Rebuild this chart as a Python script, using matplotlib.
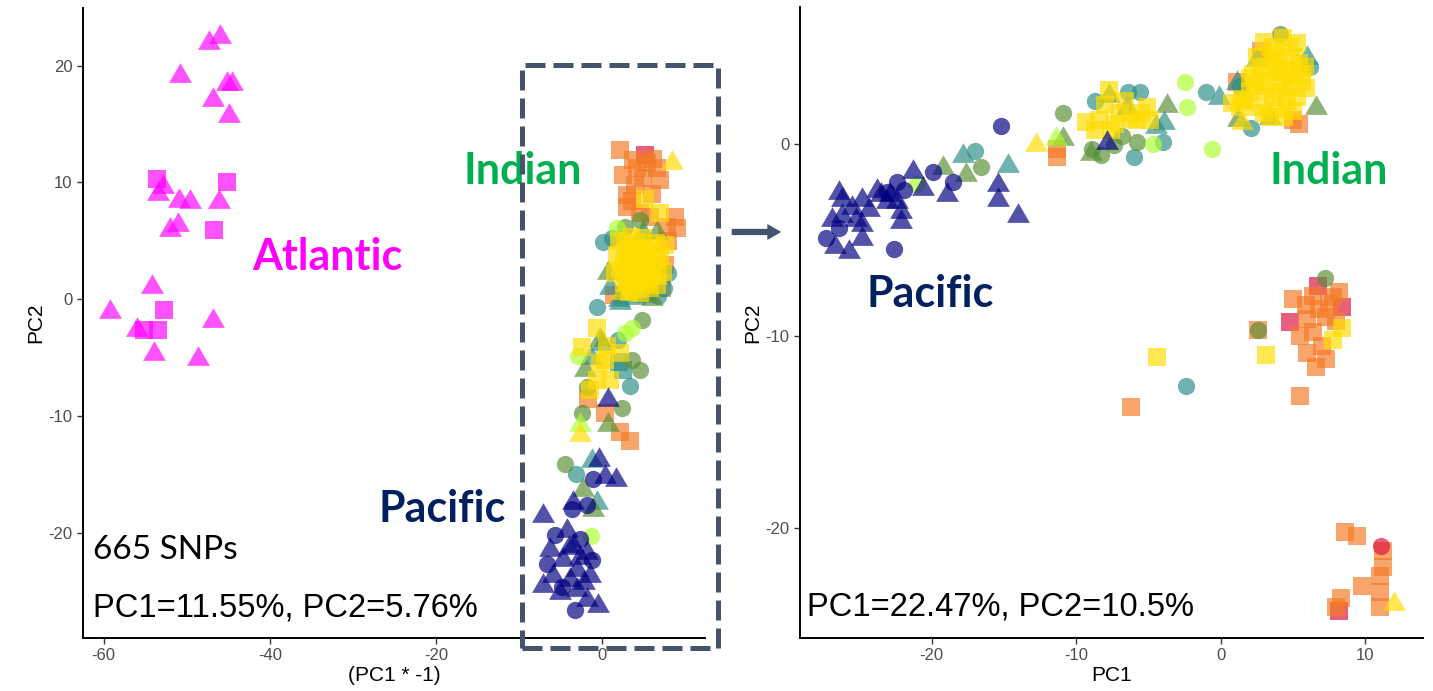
import matplotlib
matplotlib.use("Agg")
import matplotlib.pyplot as plt
from matplotlib.patches import Rectangle, FancyArrowPatch

plt.rcParams["font.family"] = ["Liberation Sans", "DejaVu Sans"]
plt.rcParams["axes.unicode_minus"] = False

# colours per group
COLORS = {
    "magenta": "#FF00FF",
    "navy": "#000080",
    "teal": "#2C8E88",
    "olive": "#5A9035",
    "lime": "#ADFF2F",
    "gold": "#FFDC00",
    "orange": "#F47A25",
    "crimson": "#DE1341",
}

# ---------------- left panel: 665 SNPs (PC1 flipped) ----------------
left_magenta_tri = [(-46.0, 22.7), (-47.3, 22.2), (-50.8, 19.4), (-45.2, 18.7), (-44.6, 18.7),
                    (-46.9, 17.3), (-44.9, 15.9), (-52.9, 9.9), (-53.5, 9.3), (-50.9, 8.7),
                    (-49.6, 8.6), (-46.1, 8.6), (-52.0, 6.2), (-51.1, 6.6), (-54.2, 1.3),
                    (-59.2, -0.8), (-46.8, -1.6), (-56.0, -2.4), (-53.9, -4.4), (-48.7, -4.9)]
left_magenta_sq = [(-53.6, 10.3), (-45.2, 10.0), (-46.7, 5.9), (-52.8, -0.9), (-53.5, -2.6), (-55.1, -2.6)]

left_crimson_sq = [(5.2, 12.3)]
left_orange_sq = [(2.2, 12.8), (3.7, 11.9), (5.4, 11.7), (6.6, 11.2), (4.9, 10.4), (7.0, 10.2),
                  (3.0, 8.9), (3.0, 7.9), (4.6, 7.4), (8.8, 7.0), (9.0, 6.1), (6.0, 9.0), (4.0, 9.8),
                  (7.8, 6.2), (2.5, 10.6), (4.2, 11.2), (6.2, 12.0), (3.6, 8.4), (5.8, 7.0),
                  (7.6, 2.9), (7.2, 1.0), (1.4, 0.4), (8.0, 5.0),
                  (-1.7, -8.5), (0.4, -9.7), (2.2, -11.4), (3.4, -12.1)]
left_teal_circ = [(-0.6, -0.7), (1.9, -3.5), (3.4, -7.4), (-3.1, -15.0), (0.1, 4.9), (8.0, 2.2),
                  (6.7, 0.3), (1.2, 5.2), (7.5, 1.0)]
left_teal_tri = [(-1.2, -13.6), (-0.6, -17.2), (0.0, -3.6), (-1.3, -4.8), (4.9, 5.9), (2.2, -0.1),
                 (5.4, 0.5), (1.0, 1.2), (2.0, 0.2), (4.0, 0.4)]
left_teal_sq = [(2.5, -6.1), (2.0, -5.4)]
left_olive_circ = [(4.8, -1.8), (3.6, -5.2), (4.6, -6.1), (-1.8, -7.5), (-2.4, -9.7), (2.4, -9.3),
                   (-4.5, -14.1), (4.6, 6.8), (2.8, 6.2)]
left_olive_tri = [(-2.3, -16.1), (-1.1, -17.8), (-0.2, -3.2), (-2.0, -5.8), (0.7, -10.5), (6.6, 5.9),
                  (0.7, 2.5), (6.0, 0.3)]
left_lime_circ = [(3.6, -2.5), (2.8, -2.9), (-2.9, -4.9), (-1.3, -20.3), (1.8, 6.1)]
left_lime_tri = [(-2.7, -10.5)]
left_gold_sq = [(-0.6, -2.5), (-2.4, -4.1), (2.2, -4.6), (0.4, -5.2), (-0.6, -6.9), (1.0, -6.9),
                (-1.4, -7.8), (-0.2, -5.5), (0.6, -4.0), (5.2, 8.6), (7.0, 7.4),
                (2.0, 5.0), (3.5, 5.3), (5.0, 5.2), (6.5, 4.8), (1.8, 3.8), (3.0, 4.0), (4.3, 4.2),
                (5.6, 3.9), (7.0, 3.6), (2.2, 2.6), (3.6, 2.8), (4.8, 2.5), (6.1, 2.7), (7.3, 2.3),
                (2.6, 1.4), (4.0, 1.3), (5.3, 1.5), (6.6, 1.2), (3.2, 0.6), (4.6, 0.5), (3.3, 3.3),
                (5.0, 3.4), (4.0, 2.0), (6.0, 2.0), (7.6, 4.6), (2.8, 4.6), (4.2, 4.8), (5.8, 4.4),
                (2.6, 3.2), (4.0, 3.5), (5.4, 3.0), (6.6, 3.4), (3.0, 2.0), (4.6, 1.8), (5.8, 1.0),
                (3.8, 0.8), (6.8, 2.0), (1.6, 2.2)]
left_gold_tri = [(-2.7, -11.4), (8.4, 11.9), (2.4, 0.8)]
left_navy_tri = [(-0.4, -13.5), (1.7, -15.2), (0.4, -15.0), (-7.1, -18.3), (-3.5, -17.2), (-4.2, -19.6),
                 (-6.3, -21.2), (-3.5, -20.9), (-1.8, -21.5), (-4.7, -22.1), (-3.0, -22.9), (-7.1, -24.3),
                 (-5.1, -24.9), (-3.0, -24.6), (-1.8, -25.5), (-0.5, -26.0), (-3.9, -23.8), (-1.4, -23.4),
                 (-5.9, -23.4), (0.7, -8.4), (-2.6, -21.9), (-4.0, -21.0), (-2.2, -24.0)]
left_navy_circ = [(-1.1, -15.4), (-1.8, -17.6), (-3.6, -18.0), (-5.7, -20.2), (-6.6, -22.7), (-1.2, -22.3),
                  (-3.3, -26.6), (-4.8, -24.6), (-2.6, -20.5)]

# ---------------- right panel ----------------
right_crimson_sq = [(6.7, -7.4), (8.4, -8.5), (4.8, -9.3), (8.2, -24.3)]
right_orange_sq = [(-11.3, -0.3), (-11.3, -0.7), (2.8, 4.8), (1.1, 3.2), (5.0, 1.2), (5.4, 1.0),
                   (5.0, -8.1), (6.4, -7.9), (8.2, -7.7), (7.5, -8.3), (6.0, -9.1), (7.3, -9.0),
                   (5.5, -10.0), (6.4, -9.8), (6.0, -10.9), (7.3, -11.2), (7.0, -10.5), (8.0, -9.2),
                   (6.8, -8.6), (7.8, -8.0), (5.9, -8.4), (6.6, -11.6),
                   (2.6, -9.7), (-6.2, -13.7), (5.5, -13.1),
                   (8.6, -20.2), (9.4, -20.4), (11.2, -21.2), (11.0, -22.5), (9.8, -23.0), (11.0, -23.3),
                   (11.0, -24.1), (8.3, -23.6), (8.0, -24.1), (11.2, -22.0)]
right_crimson_circ = [(11.1, -20.9)]
right_teal_tri = [(-17.8, -0.5), (-14.7, -1.0), (-3.9, 1.2), (-0.1, 2.5), (2.5, 4.5), (1.1, 3.3),
                  (6.0, 4.6), (-6.5, 2.0), (-4.5, 1.0)]
right_teal_circ = [(-17.0, -0.4), (-8.7, 2.2), (-6.4, 2.7), (-5.6, 2.7), (-6.0, -0.7), (-4.0, 0.1),
                   (-1.0, 2.7), (6.2, 4.0), (2.1, 0.8), (-2.4, -12.6), (1.3, 3.0)]
right_olive_tri = [(-19.2, -1.1), (-17.6, -1.5), (-10.9, 0.4), (-7.7, 2.6), (-3.7, 2.1), (6.6, 2.0),
                   (1.2, 1.4), (3.4, 1.5), (-9.0, -0.4)]
right_olive_circ = [(-16.6, -1.2), (-10.9, 1.6), (-8.9, -0.3), (-6.8, 0.4), (-5.8, 0.1), (4.1, 5.7),
                    (7.2, -7.0), (2.6, -9.7), (-8.3, -0.6), (-7.4, -0.1)]
right_lime_circ = [(-21.0, -2.1), (-2.5, 3.2), (-2.3, 1.9), (-0.6, -0.3), (-4.7, -0.05)]
right_lime_tri = [(-11.4, 0.4)]
right_gold_sq = [(-7.7, 2.8), (-9.3, 1.1), (-8.4, 1.2), (-7.0, 1.6), (-6.6, 2.2), (-5.1, 1.9),
                 (-5.8, 1.2), (-4.9, 1.2), (-8.7, 0.7), (-7.6, 0.7), (-6.2, 1.3), (-8.0, 2.0),
                 (-7.3, 1.0), (-5.5, 1.6),
                 (3.0, 5.3), (4.3, 5.5), (5.3, 5.2), (2.5, 4.5), (3.8, 4.6), (5.0, 4.5), (5.8, 4.0),
                 (2.2, 3.6), (3.4, 3.7), (4.6, 3.6), (5.6, 3.2), (2.0, 2.7), (3.0, 2.8), (4.2, 2.7),
                 (5.3, 2.4), (2.6, 1.9), (3.8, 1.8), (5.0, 1.7), (1.7, 2.2), (4.0, 4.1), (4.8, 3.0),
                 (3.4, 1.4), (1.3, 1.9), (5.9, 2.9), (1.5, 2.3), (0.8, 2.1),
                 (3.6, 5.0), (4.8, 5.0), (2.8, 4.0), (5.4, 4.2), (3.2, 3.2), (4.4, 3.2), (2.4, 3.0),
                 (3.6, 2.4), (4.6, 2.2), (3.0, 1.6), (4.4, 1.4), (5.6, 3.6), (4.0, 3.8), (3.6, 4.4),
                 (2.0, 3.4), (5.0, 3.8),
                 (-4.4, -11.1), (3.1, -11.0), (8.4, -9.6), (7.8, -10.2)]
right_gold_tri = [(-12.8, 0.1), (1.5, 1.2), (12.0, -23.8)]
right_navy_tri = [(-26.4, -2.4), (-26.2, -2.8), (-24.8, -2.8), (-23.8, -2.3), (-23.5, -2.5), (-22.9, -2.5),
                  (-21.3, -1.3), (-20.6, -2.2), (-18.9, -2.5), (-15.4, -2.0), (-15.4, -2.8), (-14.0, -3.6),
                  (-22.1, -3.9), (-22.1, -3.4), (-26.9, -3.8), (-26.2, -3.6), (-25.2, -3.8), (-24.8, -4.1),
                  (-24.8, -4.8), (-26.7, -5.2), (-25.7, -5.5), (-23.1, -2.9), (-22.4, -2.9), (-24.3, -3.3),
                  (-25.5, -3.2), (-7.9, 0.2)]
right_navy_circ = [(-15.2, 0.9), (-19.9, -1.5), (-18.5, -2.0), (-22.4, -2.0), (-21.9, -2.4), (-27.3, -4.9),
                   (-26.4, -4.4), (-22.6, -5.5), (-23.1, -2.5)]

# flatter, ggplot-like triangle
TRIANGLE = [(-1.0, -0.82), (1.0, -0.82), (0.0, 0.9)]
MARKERS = {"s": "s", "o": "o", "^": TRIANGLE}
SIZES = {"s": 175, "o": 155, "^": 270}


def scatter(ax, pts, color, marker):
    xs = [p[0] for p in pts]
    ys = [p[1] for p in pts]
    ax.scatter(xs, ys, s=SIZES[marker], c=COLORS[color], marker=MARKERS[marker], alpha=0.68,
               linewidths=0, zorder=3)


def style_axes(ax):
    for side in ["top", "right"]:
        ax.spines[side].set_visible(False)
    for side in ["left", "bottom"]:
        ax.spines[side].set_linewidth(1.4)
        ax.spines[side].set_color("black")
    ax.tick_params(direction="out", length=4, width=1, color="#333333",
                   labelcolor="#4D4D4D", labelsize=12)


fig = plt.figure(figsize=(14.33, 6.91), dpi=100)
ax1 = fig.add_axes([0.0579, 0.0767, 0.434, 0.9113])
ax2 = fig.add_axes([0.5583, 0.0767, 0.4348, 0.9133])

# left panel
scatter(ax1, left_crimson_sq, "crimson", "s")
scatter(ax1, left_orange_sq, "orange", "s")
scatter(ax1, left_teal_sq, "teal", "s")
scatter(ax1, left_teal_circ, "teal", "o")
scatter(ax1, left_teal_tri, "teal", "^")
scatter(ax1, left_olive_circ, "olive", "o")
scatter(ax1, left_olive_tri, "olive", "^")
scatter(ax1, left_lime_circ, "lime", "o")
scatter(ax1, left_lime_tri, "lime", "^")
scatter(ax1, left_gold_sq, "gold", "s")
scatter(ax1, left_gold_tri, "gold", "^")
scatter(ax1, left_navy_circ, "navy", "o")
scatter(ax1, left_navy_tri, "navy", "^")
scatter(ax1, left_magenta_sq, "magenta", "s")
scatter(ax1, left_magenta_tri, "magenta", "^")

ax1.set_xlim(-62.5, 12.4)
ax1.set_ylim(-29.0, 24.9)
ax1.set_xticks([-60, -40, -20, 0])
ax1.set_yticks([-20, -10, 0, 10, 20])
style_axes(ax1)
ax1.set_xlabel("(PC1 * -1)", fontsize=15, labelpad=2)
ax1.set_ylabel("PC2", fontsize=15, labelpad=2)

ax1.text(-9.6, 11.0, "Indian", color="#00B050", fontsize=31, fontweight="bold",
         family="Lato", ha="center", va="center")
ax1.text(-33.1, 3.6, "Atlantic", color="#FF00FF", fontsize=31, fontweight="bold",
         family="Lato", ha="center", va="center")
ax1.text(-19.2, -18.0, "Pacific", color="#002060", fontsize=31, fontweight="bold",
         family="Lato", ha="center", va="center")
ax1.text(-61.3, -21.5, "665 SNPs", color="black", fontsize=24, family="Lato",
         ha="left", va="center")
ax1.text(-61.3, -26.4, "PC1=11.55%, PC2=5.76%", color="black", fontsize=23.5,
         ha="left", va="center")

# right panel
scatter(ax2, right_crimson_sq, "crimson", "s")
scatter(ax2, right_orange_sq, "orange", "s")
scatter(ax2, right_crimson_circ, "crimson", "o")
scatter(ax2, right_teal_circ, "teal", "o")
scatter(ax2, right_teal_tri, "teal", "^")
scatter(ax2, right_olive_circ, "olive", "o")
scatter(ax2, right_olive_tri, "olive", "^")
scatter(ax2, right_lime_circ, "lime", "o")
scatter(ax2, right_lime_tri, "lime", "^")
scatter(ax2, right_gold_sq, "gold", "s")
scatter(ax2, right_gold_tri, "gold", "^")
scatter(ax2, right_navy_circ, "navy", "o")
scatter(ax2, right_navy_tri, "navy", "^")

ax2.set_xlim(-29.1, 14.0)
ax2.set_ylim(-25.7, 7.1)
ax2.set_xticks([-20, -10, 0, 10])
ax2.set_yticks([-20, -10, 0])
style_axes(ax2)
ax2.set_xlabel("PC1", fontsize=15, labelpad=2)
ax2.set_ylabel("PC2", fontsize=15, labelpad=2)

ax2.text(7.5, -1.45, "Indian", color="#00B050", fontsize=31, fontweight="bold",
         family="Lato", ha="center", va="center")
ax2.text(-20.1, -7.8, "Pacific", color="#002060", fontsize=31, fontweight="bold",
         family="Lato", ha="center", va="center")
ax2.text(-28.65, -24.1, "PC1=22.47%, PC2=10.5%", color="black", fontsize=23.5,
         ha="left", va="center")

# dashed box around the zoomed region and arrow to the second panel
box = Rectangle((0.3643, 0.0622), 0.5010 - 0.3643, 0.906 - 0.0622, transform=fig.transFigure,
                fill=False, edgecolor="#44546A", linewidth=3.6, linestyle=(0, (4, 1.6)), zorder=10)
fig.add_artist(box)
arrow = FancyArrowPatch((0.5087, 0.6643), (0.5471, 0.6643), transform=fig.transFigure,
                        arrowstyle="simple,head_width=1.15,head_length=1.0,tail_width=0.45",
                        mutation_scale=10, color="#44546A", linewidth=0, zorder=10)
fig.add_artist(arrow)

fig.savefig("out.png", dpi=100)
